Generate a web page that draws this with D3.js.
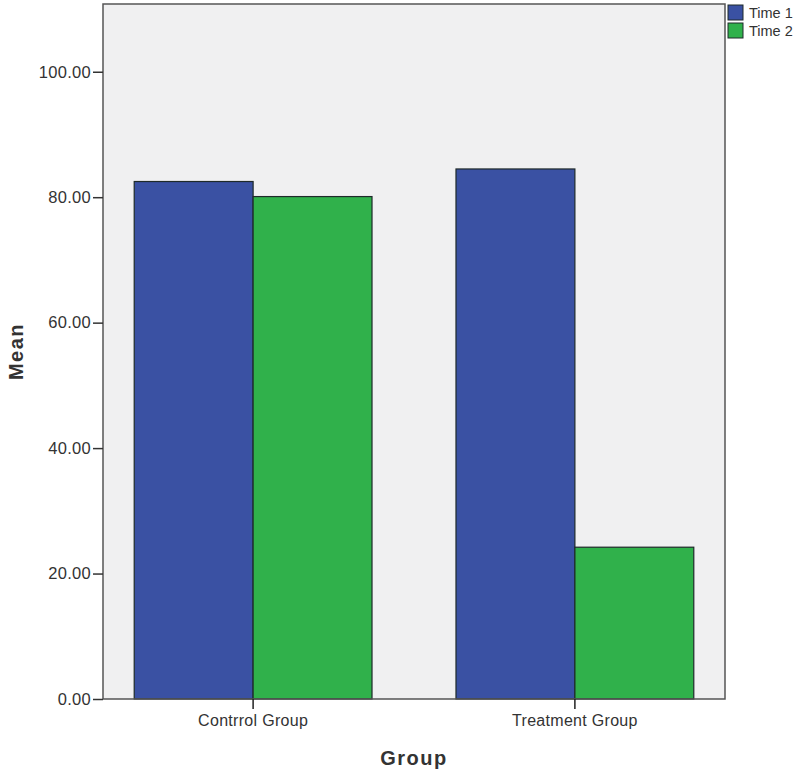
<!DOCTYPE html>
<html>
<head>
<meta charset="utf-8">
<script src="https://cdn.jsdelivr.net/npm/d3@7"></script>
<style>
  body { margin: 0; background: #fff; }
  text { font-family: Arial, "Liberation Sans", sans-serif; fill: #333; }
</style>
</head>
<body>
<div class="chart"></div>
<script>
// chart data
var groups = ["Contrrol Group", "Treatment Group"];
var times = ["Time 1", "Time 2"];
var time1Means = [82.5, 84.5];
var time2Means = [80.1, 24.2];
var yTicks = [0, 20, 40, 60, 80, 100];
var colors = ["#3a51a3", "#30b14b"];

var rows = groups.map(function(g, i) {
  return { group: g, values: [time1Means[i], time2Means[i]] };
});

var svgWidth = 800;
var svgHeight = 775;
var margin = { top: 4, right: 75, bottom: 76, left: 103 };
var width = svgWidth - margin.left - margin.right;
var height = svgHeight - margin.top - margin.bottom;

var svg = d3.select(".chart")
  .append("svg")
  .attr("width", svgWidth)
  .attr("height", svgHeight);

var chartGroup = svg.append("g")
  .attr("transform", `translate(${margin.left}, ${margin.top})`);

// scales
var x0 = d3.scaleBand()
  .domain(groups)
  .range([0, width])
  .paddingInner(0.261)
  .paddingOuter(0.097);

var x1 = d3.scaleBand()
  .domain(times)
  .range([0, x0.bandwidth()]);

var y = d3.scaleLinear()
  .domain([0, 110.8])
  .range([height, 0]);

// plot background
chartGroup.append("rect")
  .attr("width", width)
  .attr("height", height)
  .attr("fill", "#f0f0f1");

// bars
var barGroups = chartGroup.selectAll(".grp")
  .data(rows)
  .enter()
  .append("g")
  .attr("class", "grp")
  .attr("transform", d => `translate(${x0(d.group)}, 0)`);

barGroups.selectAll("rect")
  .data(d => d.values.map((v, i) => ({ time: times[i], value: v, i: i })))
  .enter()
  .append("rect")
  .attr("x", d => x1(d.time))
  .attr("y", d => y(d.value))
  .attr("width", x1.bandwidth())
  .attr("height", d => height - y(d.value))
  .attr("fill", d => colors[d.i])
  .attr("stroke", "#1e2a2a")
  .attr("stroke-width", 1.2);

// frame
chartGroup.append("rect")
  .attr("width", width)
  .attr("height", height)
  .attr("fill", "none")
  .attr("stroke", "#555")
  .attr("stroke-width", 1.5);

// y axis
var leftAxis = d3.axisLeft(y)
  .tickValues(yTicks)
  .tickSize(10)
  .tickPadding(2)
  .tickFormat(d3.format(".2f"));

var yAxisG = chartGroup.append("g").call(leftAxis);
yAxisG.select(".domain").remove();
yAxisG.selectAll("line").attr("stroke", "#333").attr("stroke-width", 1.5);
yAxisG.selectAll("text")
  .attr("font-size", 16.5)
  .attr("letter-spacing", 0.3)
  .attr("fill", "#3a3a3a")
  .style("font-family", "Arial, 'Liberation Sans', sans-serif");

// x axis
var bottomAxis = d3.axisBottom(x0)
  .tickSize(10)
  .tickPadding(6);

var xAxisG = chartGroup.append("g")
  .attr("transform", `translate(0, ${height})`)
  .call(bottomAxis);
xAxisG.select(".domain").remove();
xAxisG.selectAll("line").attr("stroke", "#222").attr("stroke-width", 1.5);
xAxisG.selectAll("text")
  .attr("font-size", 16)
  .attr("letter-spacing", 0.3)
  .attr("fill", "#3a3a3a")
  .style("font-family", "Arial, 'Liberation Sans', sans-serif");

// axis titles
svg.append("text")
  .attr("transform", `translate(23, ${margin.top + height / 2}) rotate(-90)`)
  .attr("text-anchor", "middle")
  .attr("font-size", 20)
  .attr("letter-spacing", 1.5)
  .attr("font-weight", "bold")
  .attr("fill", "#1a1a1a")
  .text("Mean");

svg.append("text")
  .attr("x", margin.left + width / 2)
  .attr("y", 765)
  .attr("text-anchor", "middle")
  .attr("font-size", 20)
  .attr("letter-spacing", 1.5)
  .attr("font-weight", "bold")
  .attr("fill", "#1a1a1a")
  .text("Group");

// legend
var legend = svg.append("g")
  .attr("transform", "translate(728, 5)");

var items = legend.selectAll("g")
  .data(times)
  .enter()
  .append("g")
  .attr("transform", (d, i) => `translate(0, ${i * 18})`);

items.append("rect")
  .attr("width", 15)
  .attr("height", 15)
  .attr("fill", (d, i) => colors[i])
  .attr("stroke", "#1e2a2a")
  .attr("stroke-width", 1);

items.append("text")
  .attr("x", 21)
  .attr("y", 13)
  .attr("font-size", 14.5)
  .attr("fill", "#222")
  .text(d => d);
</script>
</body>
</html>
